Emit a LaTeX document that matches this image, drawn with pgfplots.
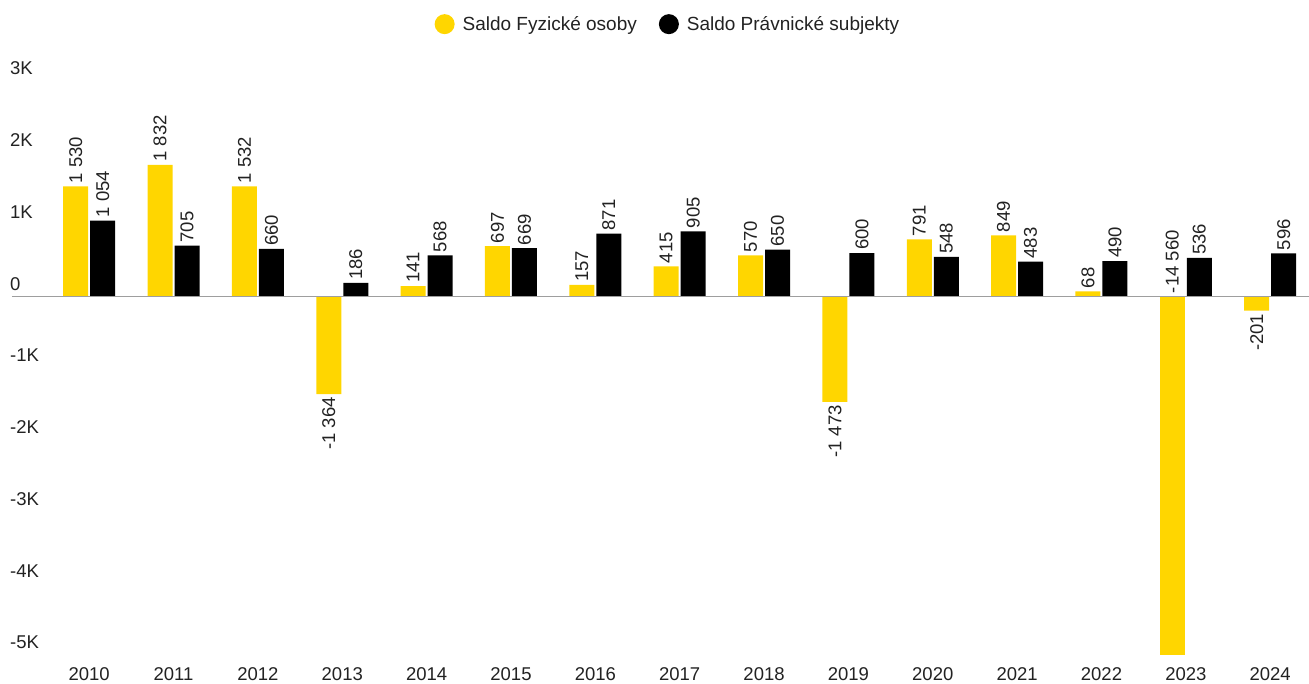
\documentclass[border=0pt]{standalone}
\usepackage{pgfplots}
\pgfplotsset{compat=1.18}
\usepackage{fontspec}
\setmainfont{Liberation Sans}
\definecolor{yel}{HTML}{FFD600}
\definecolor{zl}{HTML}{9E9E9E}
\definecolor{txt}{HTML}{222222}
\newcommand{\f}{\fontsize{18.5}{22}\selectfont}
\begin{document}
\begin{tikzpicture}
\begin{axis}[
  at={(0pt,0pt)}, anchor=south west,
  scale only axis, width=1262pt, height=574pt,
  xmin=-0.5, xmax=14.46, ymin=-5000, ymax=3000,
  clip mode=individual,
  axis line style={draw=none},
  major tick length=0pt,
  xtick={0,...,14},
  xticklabels={2010,2011,2012,2013,2014,2015,2016,2017,2018,2019,2020,2021,2022,2023,2024},
  ytick={-5000,-4000,-3000,-2000,-1000,0,1000,2000,3000},
  yticklabels={-5K,-4K,-3K,-2K,-1K,0,1K,2K,3K},
  xticklabel style={font=\f, text=txt, inner sep=0pt, anchor=center, yshift=-19pt},
  yticklabel style={font=\f, text=txt, inner sep=0pt, anchor=west, xshift=-37pt, yshift=12.5pt},
  ybar, bar width=25pt,
  point meta=explicit symbolic,
  legend columns=2,
  legend style={at={(0.492,1.099)}, anchor=center, draw=none, fill=none, font=\fontsize{19}{22}\selectfont, text=txt,
    /tikz/every even column/.append style={column sep=20pt}},
]
% Saldo Fyzicke osoby, positive
\addplot[fill=yel, draw=none, bar shift=-13.5pt,
  nodes near coords, nodes near coords style={rotate=90, anchor=west, font=\f, text=txt, inner sep=3pt},
  legend image code/.code={\fill[yel] (0pt,0pt) circle (10pt); \path (16pt,0pt);}]
  coordinates {(0,1530) [1 530] (1,1832) [1 832] (2,1532) [1 532] (4,141) [141] (5,697) [697] (6,157) [157] (7,415) [415] (8,570) [570] (10,791) [791] (11,849) [849] (12,68) [68]};
\addlegendentry{Saldo Fyzické osoby}
% Saldo Pravnicke subjekty
\addplot[fill=black, draw=none, bar shift=13.5pt,
  nodes near coords, nodes near coords style={rotate=90, anchor=west, font=\f, text=txt, inner sep=3pt},
  legend image code/.code={\fill[black] (0pt,0pt) circle (10pt); \path (16pt,0pt);}]
  coordinates {(0,1054) [1 054] (1,705) [705] (2,660) [660] (3,186) [186] (4,568) [568] (5,669) [669] (6,871) [871] (7,905) [905] (8,650) [650] (9,600) [600] (10,548) [548] (11,483) [483] (12,490) [490] (13,536) [536] (14,596) [596]};
\addlegendentry{Saldo Právnické subjekty}
% Saldo Fyzicke osoby, negative
\addplot[forget plot, fill=yel, draw=none, bar shift=-13.5pt,
  nodes near coords, nodes near coords style={rotate=90, anchor=east, font=\f, text=txt, inner sep=3pt}]
  coordinates {(3,-1364) [-1 364] (9,-1473) [-1 473] (14,-201) [-201]};
\addplot[forget plot, fill=yel, draw=none, bar shift=-13.5pt]
  coordinates {(13,-14560)};
% label of the 2023 bar, set above the zero line
\addplot[forget plot, draw=none, fill=none, bar shift=-13.5pt,
  nodes near coords, nodes near coords style={rotate=90, anchor=west, font=\f, text=txt, inner sep=3pt}]
  coordinates {(13,0) [-14 560]};
\draw[zl, line width=1pt] (axis cs:-0.915,0) -- (axis cs:14.46,0);
\end{axis}
\pgfresetboundingbox
\useasboundingbox (-47pt,-29pt) rectangle (1262pt,655pt);
\end{tikzpicture}
\end{document}
